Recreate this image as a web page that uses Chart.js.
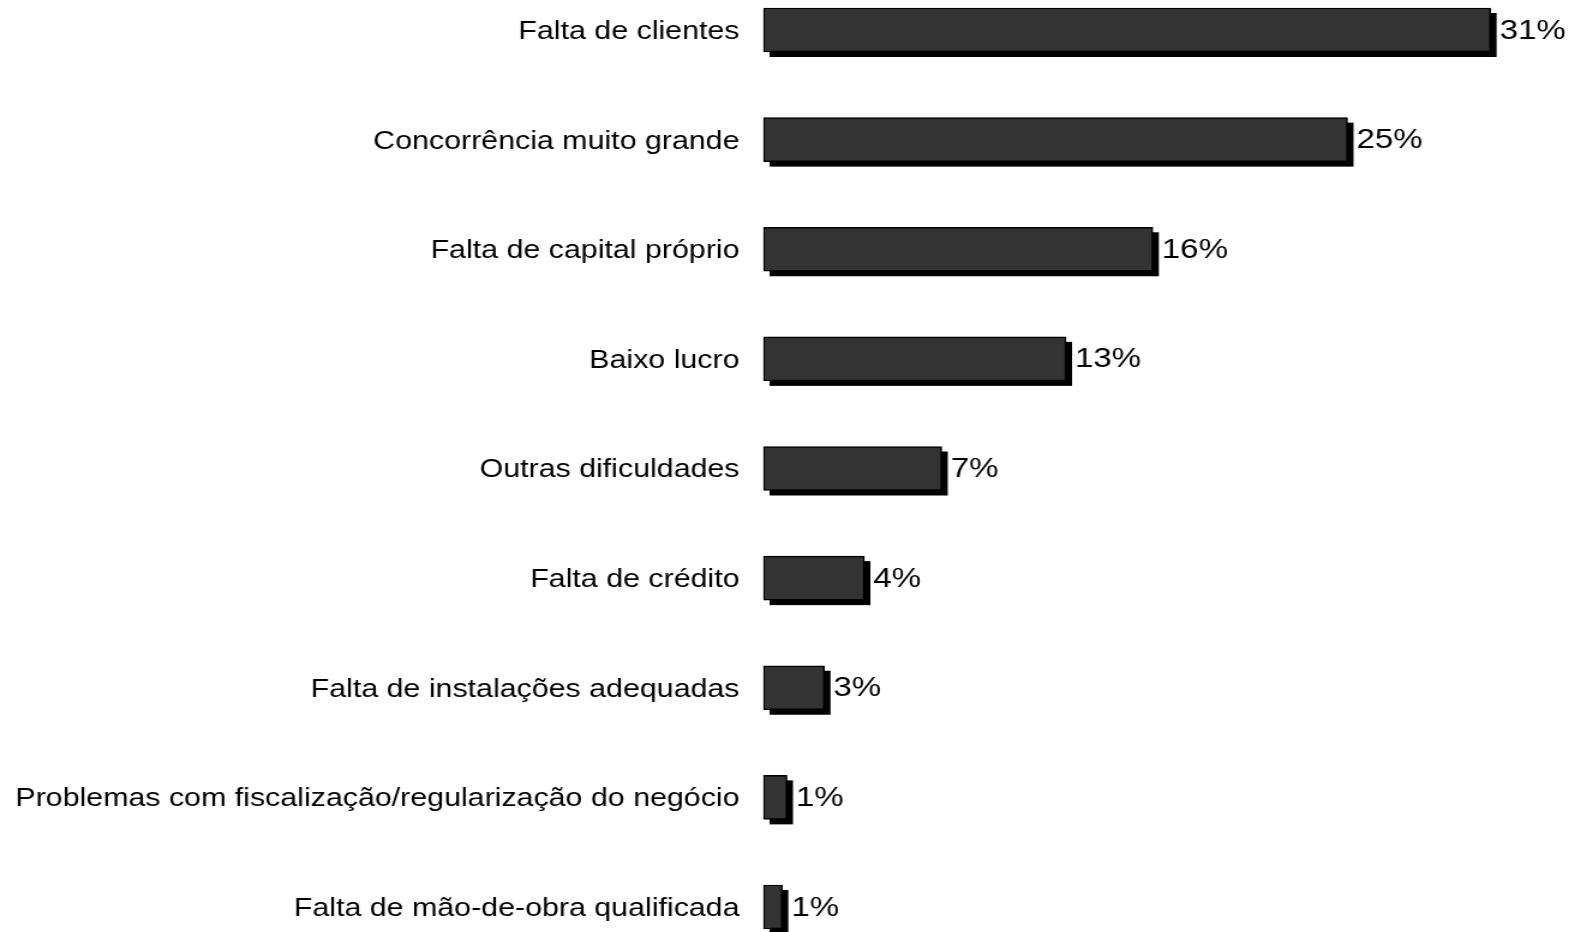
<!DOCTYPE html>
<html>
<head>
<meta charset="utf-8">
<script src="https://cdn.jsdelivr.net/npm/chart.js@4.4.1/dist/chart.umd.min.js"></script>
<style>
  html, body { margin: 0; padding: 0; background: #ffffff; overflow: hidden; }
  #wrap { width: 1312px; height: 932px; transform: scaleX(1.2005); transform-origin: 0 0; }
  canvas { display: block; }
</style>
</head>
<body>
<div id="wrap"><canvas id="c" width="1312" height="932"></canvas></div>
<script>
const categories = [
  "Falta de clientes",
  "Concorrência muito grande",
  "Falta de capital próprio",
  "Baixo lucro",
  "Outras dificuldades",
  "Falta de crédito",
  "Falta de instalações adequadas",
  "Problemas com fiscalização/regularização do negócio",
  "Falta de mão-de-obra qualificada"
];
const values = [31, 24.9, 16.6, 12.9, 7.6, 4.3, 2.6, 1.0, 0.8];
const valueLabels = ["31%", "25%", "16%", "13%", "7%", "4%", "3%", "1%", "1%"];

const shadowPlugin = {
  id: 'barShadow',
  beforeDatasetsDraw(chart) {
    const ctx = chart.ctx;
    const meta = chart.getDatasetMeta(0);
    ctx.save();
    ctx.fillStyle = '#000000';
    meta.data.forEach(el => {
      const p = el.getProps(['x', 'y', 'base', 'height'], true);
      const left = Math.min(p.x, p.base);
      const w = Math.abs(p.x - p.base);
      ctx.fillRect(left + 5, p.y - p.height / 2 + 5, w, p.height);
    });
    ctx.restore();
  },
  afterDatasetsDraw(chart) {
    const ctx = chart.ctx;
    const meta = chart.getDatasetMeta(0);
    ctx.save();
    ctx.fillStyle = '#000000';
    ctx.font = '27.5px "Liberation Sans", Arial, sans-serif';
    ctx.textAlign = 'left';
    ctx.textBaseline = 'middle';
    meta.data.forEach((el, i) => {
      const p = el.getProps(['x', 'y'], true);
      ctx.fillText(valueLabels[i], p.x + 7.5, p.y + 1);
    });
    ctx.restore();
  }
};

new Chart(document.getElementById('c'), {
  type: 'bar',
  data: {
    labels: categories,
    datasets: [{
      data: values,
      backgroundColor: '#333333',
      borderColor: '#000000',
      borderWidth: 1.5,
      borderSkipped: false,
      barThickness: 44,
      clip: false
    }]
  },
  options: {
    indexAxis: 'y',
    responsive: false,
    devicePixelRatio: 1,
    animation: false,
    layout: { padding: { top: 30, bottom: 25, left: 0, right: 0 } },
    plugins: { legend: { display: false }, tooltip: { enabled: false } },
    scales: {
      x: {
        display: false,
        min: 0,
        max: 34.6
      },
      y: {
        offset: false,
        grid: { display: false, drawTicks: false },
        border: { display: false },
        ticks: {
          padding: 20,
          labelOffset: 2,
          color: '#000000',
          font: { family: '"Liberation Sans", Arial, sans-serif', size: 25.3 }
        },
        afterFit(scale) {
          scale.width = 636;
          scale.paddingTop = 0;
          scale.paddingBottom = 0;
        }
      }
    }
  },
  plugins: [shadowPlugin]
});
</script>
</body>
</html>
